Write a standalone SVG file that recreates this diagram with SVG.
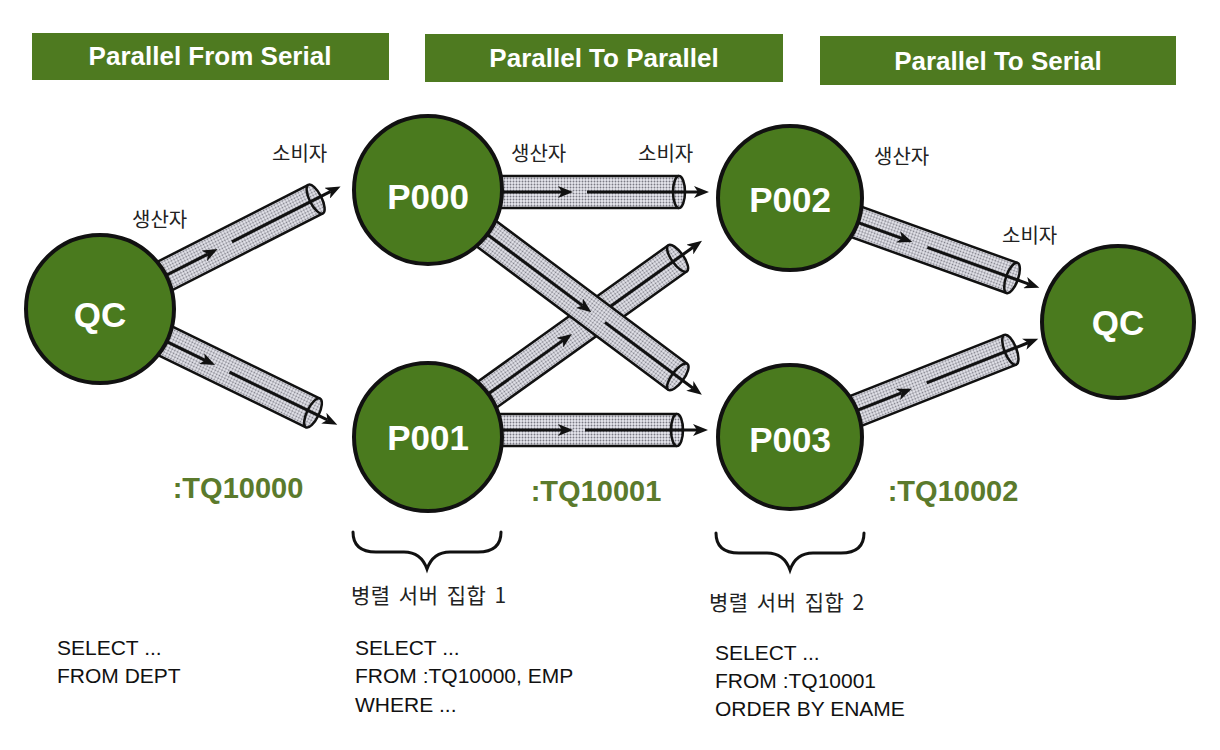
<svg xmlns="http://www.w3.org/2000/svg" width="1220" height="750" viewBox="0 0 1220 750">
<defs>
<pattern id="dots" width="3" height="3" patternUnits="userSpaceOnUse">
<rect width="3" height="3" fill="#e8e8ee"/>
<circle cx="1.5" cy="1.5" r="0.95" fill="#7a7a84"/>
</pattern>
<marker id="ah" markerWidth="16" markerHeight="12" refX="4" refY="6" orient="auto" markerUnits="userSpaceOnUse">
<path d="M0,0 L15,6 L0,12 L4,6 z" fill="#111"/>
</marker>
</defs>
<style>
.bar{fill:#4e7a20}
.bartxt{font-family:"Liberation Sans",Arial,sans-serif;font-weight:bold;font-size:26px;fill:#fff;text-anchor:middle}
.node{fill:#4a7a1e;stroke:#111;stroke-width:4}
.ntxt{font-family:"Liberation Sans",Arial,sans-serif;font-weight:bold;font-size:35px;fill:#fff;text-anchor:middle}
.body{fill:url(#dots)}
.edge{stroke:#111;stroke-width:2.5;fill:none}
.cap{fill:url(#dots);stroke:#111;stroke-width:2.5}
.arr{stroke:#111;stroke-width:3;fill:none;marker-end:url(#ah)}
.ko{font-family:"Noto Sans CJK KR","Noto Sans",sans-serif;font-size:20px;fill:#222}
.ko2{font-family:"Noto Sans CJK KR","Noto Sans",sans-serif;font-size:21px;fill:#222;letter-spacing:0.5px;word-spacing:3px}
.tq{font-family:"Liberation Sans",Arial,sans-serif;font-weight:bold;font-size:29px;fill:#5b7a2c;text-anchor:middle}
.code{font-family:"Liberation Sans",Arial,sans-serif;font-size:21px;fill:#111}
.brace{fill:none;stroke:#111;stroke-width:3;stroke-linecap:round}
</style>
<rect width="1220" height="750" fill="#fff"/>

<g id="header-1"><rect class="bar" x="32" y="33" width="357" height="47"/><text class="bartxt" x="210" y="65">Parallel From Serial</text></g>
<g id="header-2"><rect class="bar" x="425" y="34" width="358" height="48"/><text class="bartxt" x="604" y="67">Parallel To Parallel</text></g>
<g id="header-3"><rect class="bar" x="820" y="36" width="356" height="49"/><text class="bartxt" x="998" y="70">Parallel To Serial</text></g>

<g id="connectors">
<g id="pipe-qc-p000" transform="translate(100,309) rotate(-27)">
<rect class="body" x="0" y="-16" width="242" height="32"/>
<line class="edge" x1="0" y1="-16" x2="242" y2="-16"/><line class="edge" x1="0" y1="16" x2="242" y2="16"/>
<ellipse class="cap" cx="242" cy="0" rx="6" ry="16"/>
<line class="arr" x1="60" y1="0" x2="121" y2="0"/><line class="arr" x1="148" y1="0" x2="259" y2="0"/>
</g>
<g id="pipe-qc-p001" transform="translate(100,309) rotate(26)">
<rect class="body" x="0" y="-16" width="237" height="32"/>
<line class="edge" x1="0" y1="-16" x2="237" y2="-16"/><line class="edge" x1="0" y1="16" x2="237" y2="16"/>
<ellipse class="cap" cx="237" cy="0" rx="6" ry="16"/>
<line class="arr" x1="60" y1="0" x2="117" y2="0"/><line class="arr" x1="144" y1="0" x2="253" y2="0"/>
</g>
<g id="pipe-p000-p002" transform="translate(428,192)">
<rect class="body" x="0" y="-16" width="251" height="32"/>
<line class="edge" x1="0" y1="-16" x2="251" y2="-16"/><line class="edge" x1="0" y1="16" x2="251" y2="16"/>
<ellipse class="cap" cx="251" cy="0" rx="6" ry="16"/>
<line class="arr" x1="60" y1="0" x2="134" y2="0"/><line class="arr" x1="159" y1="0" x2="270" y2="0"/>
</g>
<g id="pipe-p001-p003" transform="translate(428,430)">
<rect class="body" x="0" y="-16" width="249" height="32"/>
<line class="edge" x1="0" y1="-16" x2="249" y2="-16"/><line class="edge" x1="0" y1="16" x2="249" y2="16"/>
<ellipse class="cap" cx="249" cy="0" rx="6" ry="16"/>
<line class="arr" x1="60" y1="0" x2="134" y2="0"/><line class="arr" x1="157" y1="0" x2="269" y2="0"/>
</g>
<g id="pipe-p001-p002" transform="translate(428,437) rotate(-35.6)">
<rect class="body" x="0" y="-16" width="307" height="32"/>
<line class="edge" x1="0" y1="-16" x2="307" y2="-16"/><line class="edge" x1="0" y1="16" x2="307" y2="16"/>
<ellipse class="cap" cx="307" cy="0" rx="6" ry="16"/>
<line class="arr" x1="60" y1="0" x2="166" y2="0"/><line class="arr" x1="192" y1="0" x2="326" y2="0"/>
</g>
<g id="pipe-p000-p003" transform="translate(428,190) rotate(36.8)">
<rect class="body" x="0" y="-16" width="312" height="32"/>
<line class="edge" x1="0" y1="-16" x2="312" y2="-16"/><line class="edge" x1="0" y1="16" x2="312" y2="16"/>
<ellipse class="cap" cx="312" cy="0" rx="6" ry="16"/>
<line class="arr" x1="60" y1="0" x2="193" y2="0"/><line class="arr" x1="221" y1="0" x2="331" y2="0"/>
</g>
<g id="pipe-p002-qc" transform="translate(790,198) rotate(19.8)">
<rect class="body" x="0" y="-16" width="236" height="32"/>
<line class="edge" x1="0" y1="-16" x2="236" y2="-16"/><line class="edge" x1="0" y1="16" x2="236" y2="16"/>
<ellipse class="cap" cx="236" cy="0" rx="6" ry="16"/>
<line class="arr" x1="60" y1="0" x2="119" y2="0"/><line class="arr" x1="146" y1="0" x2="254" y2="0"/>
</g>
<g id="pipe-p003-qc" transform="translate(790,437) rotate(-21.6)">
<rect class="body" x="0" y="-16" width="237" height="32"/>
<line class="edge" x1="0" y1="-16" x2="237" y2="-16"/><line class="edge" x1="0" y1="16" x2="237" y2="16"/>
<ellipse class="cap" cx="237" cy="0" rx="6" ry="16"/>
<line class="arr" x1="60" y1="0" x2="120" y2="0"/><line class="arr" x1="147" y1="0" x2="256" y2="0"/>
</g>
</g>

<g id="node-qc-left"><circle class="node" cx="100" cy="309" r="74"/><text class="ntxt" x="100" y="327">QC</text></g>
<g id="node-p000"><circle class="node" cx="428" cy="190" r="74"/><text class="ntxt" x="428" y="209">P000</text></g>
<g id="node-p001"><circle class="node" cx="428" cy="437" r="74"/><text class="ntxt" x="428" y="450">P001</text></g>
<g id="node-p002"><circle class="node" cx="790" cy="198" r="72"/><text class="ntxt" x="790" y="212">P002</text></g>
<g id="node-p003"><circle class="node" cx="790" cy="437" r="72"/><text class="ntxt" x="790" y="452">P003</text></g>
<g id="node-qc-right"><circle class="node" cx="1118" cy="322" r="76"/><text class="ntxt" x="1118" y="335">QC</text></g>

<g id="labels">
<text class="ko" x="132" y="227">생산자</text>
<text class="ko" x="272" y="161">소비자</text>
<text class="ko" x="511" y="161">생산자</text>
<text class="ko" x="638" y="161">소비자</text>
<text class="ko" x="874" y="164">생산자</text>
<text class="ko" x="1002" y="243">소비자</text>
<text class="tq" x="238" y="498">:TQ10000</text>
<text class="tq" x="596" y="501">:TQ10001</text>
<text class="tq" x="953" y="501">:TQ10002</text>
</g>

<g id="server-set-1">
<path class="brace" d="M353,532 Q353,552 376,552 L404,552 Q421,552 427,569 Q433,552 450,552 L478,552 Q501,552 501,532"/>
<text class="ko2" x="351" y="603">병렬 서버 집합 1</text>
</g>
<g id="server-set-2">
<path class="brace" d="M716,533 Q716,553 739,553 L767,553 Q784,553 790,570 Q796,553 813,553 L841,553 Q864,553 864,533"/>
<text class="ko2" x="709" y="610">병렬 서버 집합 2</text>
</g>

<g id="code">
<text class="code" x="57" y="655">SELECT ...</text>
<text class="code" x="57" y="683">FROM DEPT</text>
<text class="code" x="355" y="655">SELECT ...</text>
<text class="code" x="355" y="683">FROM :TQ10000, EMP</text>
<text class="code" x="355" y="712">WHERE ...</text>
<text class="code" x="715" y="660">SELECT ...</text>
<text class="code" x="715" y="688">FROM :TQ10001</text>
<text class="code" x="715" y="716">ORDER BY ENAME</text>
</g>
</svg>
